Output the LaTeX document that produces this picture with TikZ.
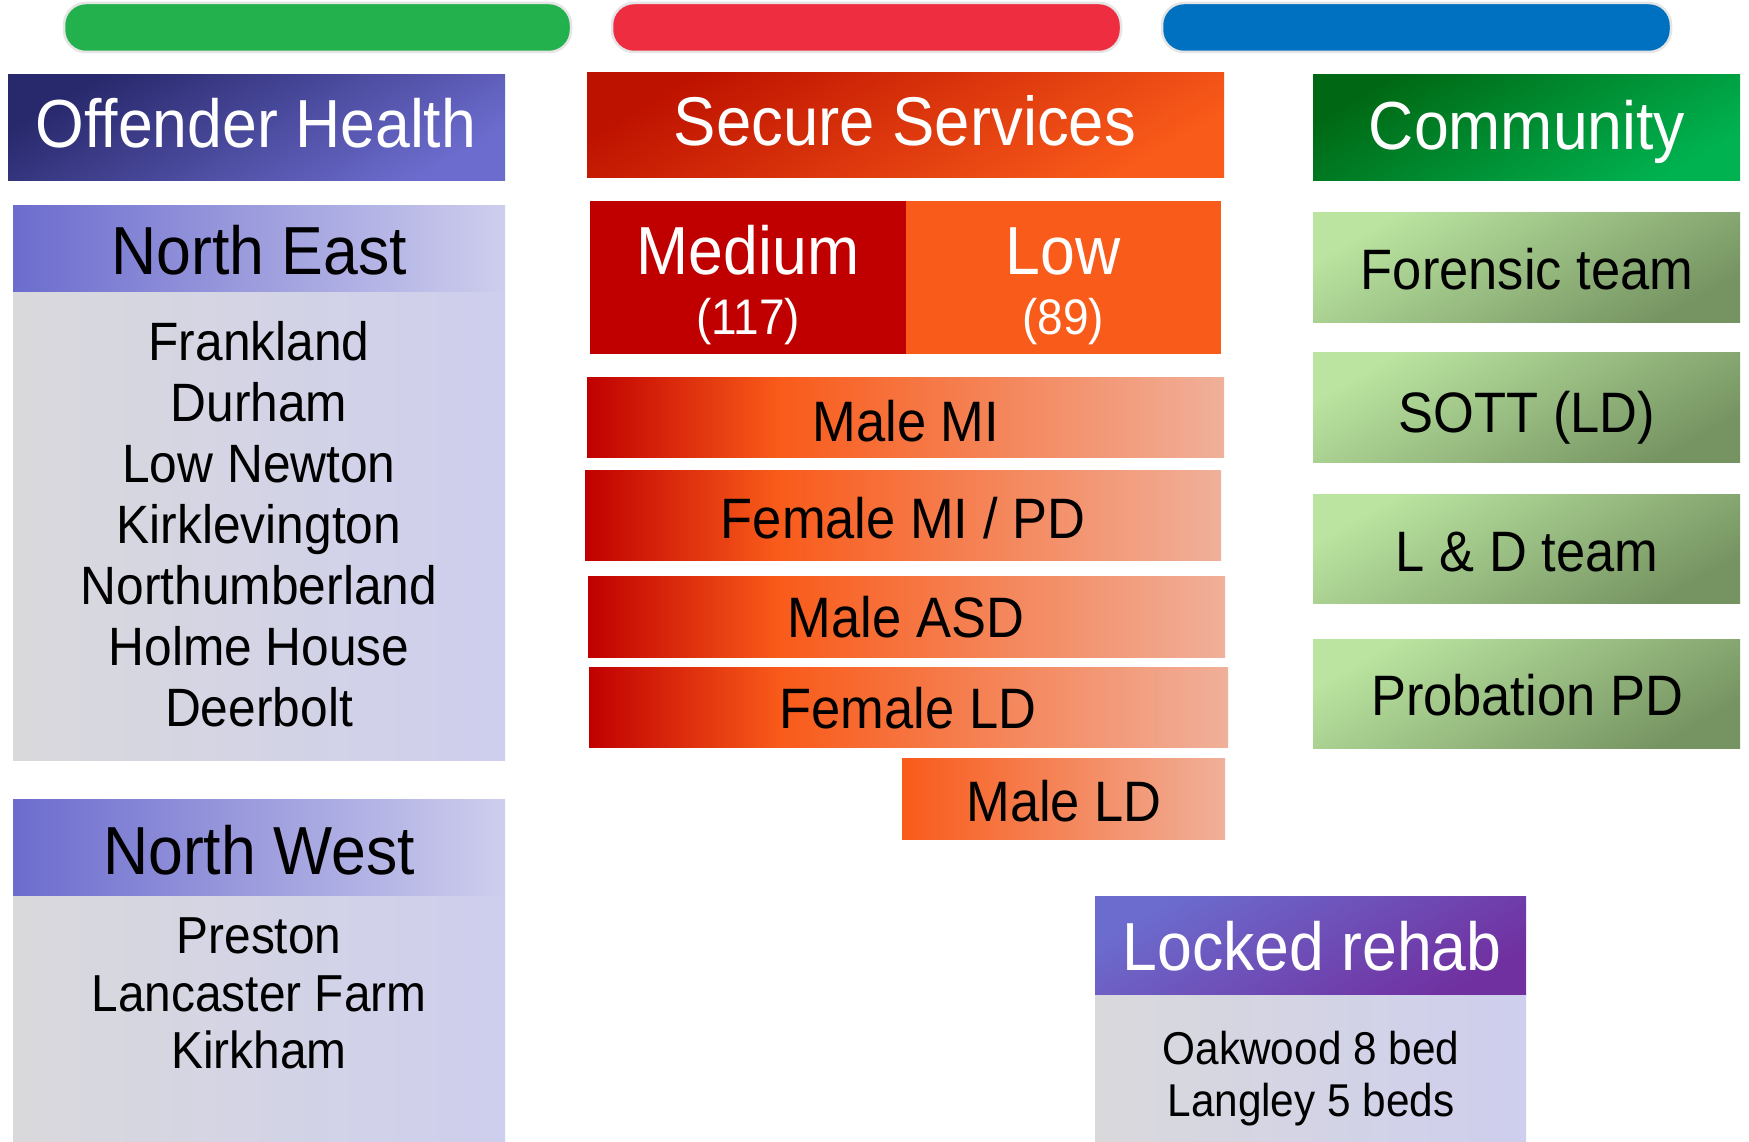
\documentclass[tikz,border=0pt]{standalone}
\usepackage{fontspec}
\setmainfont{Liberation Sans}[FakeStretch=0.92]

% palette
\definecolor{pillgreen}{RGB}{34,177,76}
\definecolor{pillred}{RGB}{238,45,64}
\definecolor{pillblue}{RGB}{0,112,192}
\definecolor{navy}{RGB}{40,40,108}
\definecolor{periwinkle}{RGB}{108,108,206}
\definecolor{lavender}{RGB}{206,206,238}
\definecolor{palegray}{RGB}{217,217,220}
\definecolor{deepred}{RGB}{192,0,0}
\definecolor{flame}{RGB}{249,91,26}
\definecolor{salmon}{RGB}{240,176,154}
\definecolor{ssdark}{RGB}{190,18,0}
\definecolor{darkgreen}{RGB}{0,104,20}
\definecolor{brightgreen}{RGB}{0,178,80}
\definecolor{mint}{RGB}{186,228,160}
\definecolor{olive}{RGB}{118,148,98}
\definecolor{plum}{RGB}{112,48,160}

% red-to-orange-to-salmon fade for the ward bars
\pgfdeclarehorizontalshading{barfade}{100bp}{color(0bp)=(deepred); color(25bp)=(deepred); color(40bp)=(flame); color(75bp)=(salmon); color(100bp)=(salmon)}

\begin{document}
\begin{tikzpicture}[x=1pt,y=-1pt,
  box/.style={rectangle, inner sep=0pt, outer sep=0pt, anchor=north west},
  pill/.style={box, rounded corners=22pt, draw=black!10, line width=2.5pt, minimum width=#1, minimum height=49pt},
  txt/.style={inner sep=0pt, anchor=base},
  head/.style={txt, font=\fontsize{68}{80}\selectfont},
  item/.style={txt, font=\fontsize{57}{66}\selectfont},
  list/.style={inner sep=0pt, anchor=north, align=center},
  ohshade/.style={top color=navy, bottom color=periwinkle, shading angle=30},
  regionhead/.style={left color=periwinkle, right color=lavender},
  regionbody/.style={left color=palegray, right color=lavender},
  ssshade/.style={top color=ssdark, bottom color=flame, shading angle=30},
  comshade/.style={top color=darkgreen, bottom color=brightgreen, shading angle=30},
  teamshade/.style={top color=mint, bottom color=olive, shading angle=30},
  lrshade/.style={top color=periwinkle, bottom color=plum, shading angle=30},
]
\useasboundingbox (0,0) rectangle (1749,1142);
\fill[white] (0,0) rectangle (1749,1142);

% column pills
\node[pill=507pt, fill=pillgreen] (pillG) at (64,3) {};
\node[pill=509pt, fill=pillred] (pillR) at (612,3) {};
\node[pill=509pt, fill=pillblue] (pillB) at (1162,3) {};

% ---- Offender Health column ----
\node[box, ohshade, minimum width=497pt, minimum height=106pt] (oh) at (8,75) {};
\node[head, white] (ohT) at (256,148) {Offender Health};

\node[box, regionhead, minimum width=492pt, minimum height=86pt] (neHead) at (13,206) {};
\node[box, regionbody, minimum width=492pt, minimum height=468pt] (neBody) at (13,292) {};
\node[head] (neT) at (259,275) {North East};
\node[list, font=\fontsize{54}{61}\selectfont] (neL) at (259,321)
  {Frankland\\Durham\\Low Newton\\Kirklevington\\Northumberland\\Holme House\\Deerbolt};

\node[box, regionhead, minimum width=492pt, minimum height=97pt] (nwHead) at (13,799) {};
\node[box, regionbody, minimum width=492pt, minimum height=246pt] (nwBody) at (13,896) {};
\node[head] (nwT) at (259,874) {North West};
\node[list, font=\fontsize{52}{57.5}\selectfont] (nwL) at (259,918)
  {Preston\\Lancaster Farm\\Kirkham};

% ---- Secure Services column ----
\node[box, ssshade, minimum width=637pt, minimum height=105pt] (ss) at (587,73) {};
\node[head, white, font=\fontsize{69}{80}\selectfont] (ssT) at (905,146) {Secure Services};

\node[box, fill=deepred, minimum width=316pt, minimum height=153pt] (med) at (590,201) {};
\node[box, fill=flame, minimum width=315pt, minimum height=153pt] (low) at (906,201) {};
\node[head, white] (medT) at (748,275) {Medium};
\node[txt, white, font=\fontsize{50}{60}\selectfont] (medN) at (748,334) {(117)};
\node[head, white] (lowT) at (1063,275) {Low};
\node[txt, white, font=\fontsize{50}{60}\selectfont] (lowN) at (1063,334) {(89)};

\node[box, shading=barfade, minimum width=637pt, minimum height=80pt] (maleMI) at (587,377) {};
\node[item] (maleMIT) at (906,441) {Male MI};
\node[box, shading=barfade, minimum width=636pt, minimum height=90pt] (femMIPD) at (585,470) {};
\node[item] (femMIPDT) at (903,538) {Female MI / PD};
\node[box, shading=barfade, minimum width=637pt, minimum height=81pt] (maleASD) at (588,576) {};
\node[item] (maleASDT) at (906,637) {Male ASD};
\node[box, shading=barfade, minimum width=639pt, minimum height=80pt] (femLD) at (589,667) {};
\node[item] (femLDT) at (908,728) {Female LD};
\node[box, left color=flame, right color=salmon, minimum width=323pt, minimum height=81pt] (maleLD) at (902,758) {};
\node[item] (maleLDT) at (1064,821) {Male LD};

% ---- Community column ----
\node[box, comshade, minimum width=427pt, minimum height=106pt] (com) at (1313,75) {};
\node[head, white] (comT) at (1527,150) {Community};

\node[box, teamshade, minimum width=427pt, minimum height=109pt] (forensic) at (1313,213) {};
\node[item] (forensicT) at (1527,290) {Forensic team};
\node[box, teamshade, minimum width=427pt, minimum height=110pt] (sott) at (1313,352) {};
\node[item] (sottT) at (1527,432) {SOTT (LD)};
\node[box, teamshade, minimum width=427pt, minimum height=109pt] (ldteam) at (1313,494) {};
\node[item] (ldteamT) at (1527,571) {L \& D team};
\node[box, teamshade, minimum width=427pt, minimum height=109pt] (prob) at (1313,639) {};
\node[item] (probT) at (1527,715) {Probation PD};

% ---- Locked rehab ----
\node[box, lrshade, minimum width=431pt, minimum height=99pt] (lrHead) at (1095,896) {};
\node[box, regionbody, minimum width=431pt, minimum height=147pt] (lrBody) at (1095,995) {};
\node[head, white] (lrT) at (1312,970) {Locked rehab};
\node[list, font=\fontsize{46}{52}\selectfont] (lrL) at (1311,1031)
  {Oakwood 8 bed\\Langley 5 beds};
\end{tikzpicture}
\end{document}
